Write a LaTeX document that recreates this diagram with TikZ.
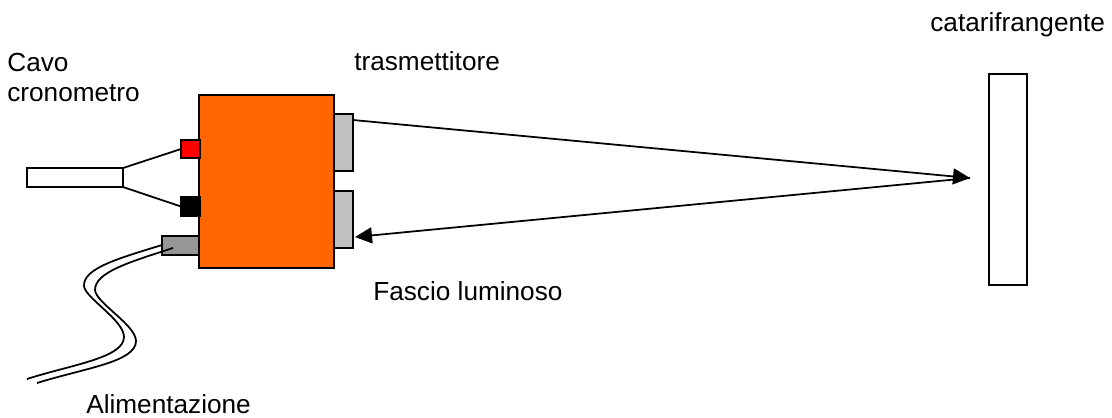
\documentclass[tikz,border=0pt]{standalone}
\usepackage{fontspec}
\setmainfont{Liberation Sans}
\usetikzlibrary{arrows.meta, positioning}

\tikzset{
  part/.style={draw, line width=1pt, inner sep=0pt, outer sep=0pt},
  beam/.style={line width=1pt, -{Triangle[length=0.34cm,width=0.32cm]}},
  wire/.style={line width=1pt},
  tag/.style={inner sep=0pt, anchor=base west, align=left, font=\fontsize{14.9}{17}\selectfont}
}

\begin{document}
\begin{tikzpicture}[x=0.02cm,y=-0.02cm]
\useasboundingbox (0,0) rectangle (1112,417);

\node[part, fill={rgb,255:red,255;green,102;blue,0}, minimum width=2.7cm, minimum height=3.46cm] (body) at (266.5,181.5) {};
\node[part, fill=red, minimum width=0.38cm, minimum height=0.36cm] (redplug) at (190.5,149) {};
\node[part, fill=black, minimum width=0.38cm, minimum height=0.38cm] (blackplug) at (190.5,206.5) {};
\node[part, fill=white, minimum width=1.92cm, minimum height=0.38cm] (cable) at (75,177.5) {};
\node[part, fill={rgb,255:red,150;green,150;blue,150}, minimum width=0.74cm, minimum height=0.38cm] (power) at (180.5,245.5) {};
\node[part, fill={rgb,255:red,192;green,192;blue,192}, minimum width=0.38cm, minimum height=1.14cm] (tx) at (343.5,142.5) {};
\node[part, fill={rgb,255:red,192;green,192;blue,192}, minimum width=0.38cm, minimum height=1.14cm] (rx) at (343.5,219.5) {};
\node[part, fill=white, minimum width=0.76cm, minimum height=4.22cm] (reflector) at (1008,179.5) {};

\coordinate (txout) at (353,120);
\coordinate (rxin) at (355,237);
\coordinate (focus) at (970,178);

\draw[wire] (cable.north east) -- (redplug.west);
\draw[wire] (cable.south east) -- (blackplug.west);
\draw[beam] (txout) -- (focus);
\draw[beam] (focus) -- (rxin);

% power cord, two strands
\coordinate (cordA) at (162,245);
\coordinate (cordB) at (173,248);
\coordinate (endA) at (27,379);
\coordinate (endB) at (37,383);
\draw[wire] (cordA) .. controls (120,258) and (83,268) .. (84,286) .. controls (85,298) and (124,320) .. (124,337) .. controls (124,358) and (70,365) .. (endA);
\draw[wire] (cordB) .. controls (130,262) and (95,272) .. (95,290) .. controls (96,303) and (136,325) .. (136,341) .. controls (136,362) and (85,368) .. (endB);

\node[tag] (cavo) at (7,101) {Cavo\\cronometro};
\node[tag] (trasm) at (354,70) {trasmettitore};
\node[tag] (catari) at (930,31) {catarifrangente};
\node[tag] (fascio) at (373,300) {Fascio luminoso};
\node[tag] (alim) at (86,413) {Alimentazione};
\end{tikzpicture}
\end{document}
